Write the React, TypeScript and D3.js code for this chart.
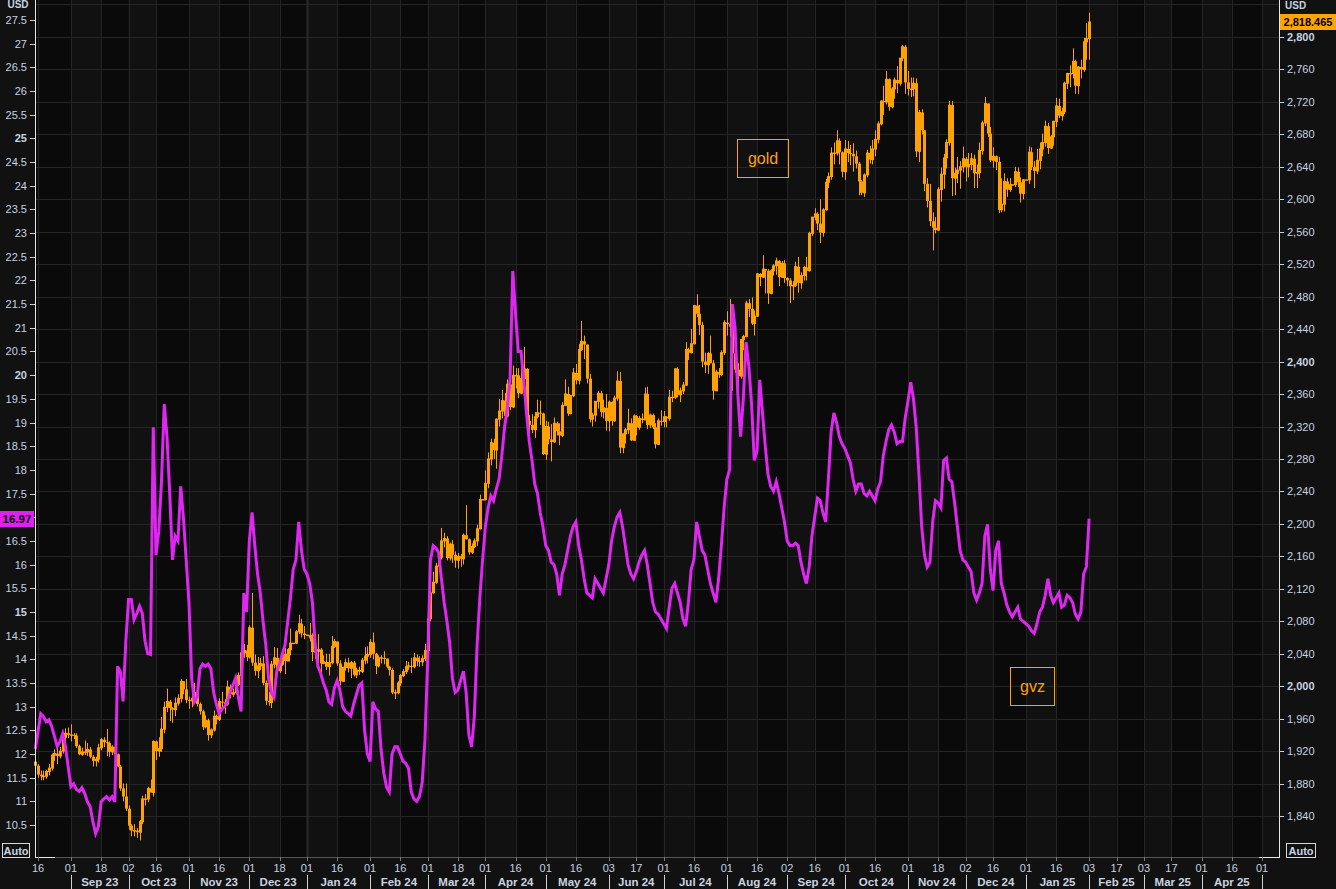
import React from 'react';
import * as d3 from 'd3';

const W = 1336;
const H = 889;

// first data day: Tue 2023-08-15 (one weekday before the first axis tick)
const FIRST_DAY = '2023-08-15';
const goldFirstOpen = 1907;

// Daily spot gold (weekdays, 2023-08-15 .. 2025-02-03)
const goldClose = [
  1902,1891,1889,1889,1895,1899,1915,1917,1914,1920,1937,1942,1940,
  1940,1939,1926,1916,1919,1919,1922,1913,1908,1910,1924,1934,1931,1930,1919,1925,1916,1901,1874,1864,1849,
  1828,1822,1822,1820,1833,1861,1861,1874,1869,1932,1920,1923,1947,1974,1981,1973,1971,1979,1985,2006,1996,1983,
  1982,1985,1992,1978,1969,1950,1958,1940,1946,1963,1959,1981,1980,1978,1999,1990,1992,2002,2013,2041,2044,2036,
  2072,2029,2019,2025,2028,2004,1982,1980,2027,2035,2019,2027,2040,2031,2045,2053,2053,2067,2077,2065,2063,
  2063,2059,2042,2043,2045,2028,2030,2024,2029,2049,2055,2028,2006,2023,2029,2022,2029,2014,2020,2018,2032,2037,2039,
  2054,2040,2025,2035,2035,2034,2024,2020,1992,1992,2004,2013,2018,2024,2025,2024,2035,2031,2030,2034,2044,
  2083,2115,2128,2148,2159,2179,2182,2158,2175,2162,2155,2160,2157,2186,2181,2165,2172,2179,2194,2230,2230,
  2250,2280,2300,2291,2329,2339,2352,2333,2372,2344,2383,2383,2361,2379,2391,2327,2322,2316,2332,2337,2336,2286,
  2320,2304,2301,2324,2314,2309,2346,2360,2336,2358,2386,2377,2415,2425,2421,2379,2329,2334,2351,2361,2338,2343,2327,
  2350,2327,2355,2376,2294,2311,2316,2324,2303,2333,2319,2330,2328,2360,2322,2334,2319,2298,2327,2326,
  2332,2330,2356,2356,2391,2359,2364,2371,2415,2411,2422,2469,2459,2445,2400,2396,2410,2398,2364,2387,2384,2411,2448,
  2446,2443,2410,2390,2382,2427,2431,2472,2465,2447,2456,2508,2504,2514,2512,2484,2512,2518,2524,2504,2521,2503,
  2500,2493,2494,2517,2497,2506,2516,2512,2558,2578,2582,2570,2559,2587,2621,2628,2657,2657,2672,2658,2634,
  2662,2657,2656,2653,2644,2622,2608,2630,2657,2649,2662,2674,2693,2721,2720,2748,2714,2736,2747,2743,2774,2788,2744,
  2736,2736,2743,2659,2707,2685,2619,2598,2573,2565,2562,2612,2631,2651,2670,2716,2626,2632,2636,2640,2650,
  2640,2643,2650,2632,2633,2660,2694,2718,2681,2648,2653,2646,2587,2594,2622,2612,2618,2618,2634,2621,2607,2624,
  2624,2658,2640,2635,2648,2662,2670,2690,2663,2677,2696,2715,2703,2708,2743,2755,2755,2770,2740,2763,2760,2794,2798,
  2818.465,
];
const goldHigh = [
  1910,1904,1896,1896,1897,1904,1917,1922,1924,1925,1938,1948,1949,
  1953,1942,1942,1928,1924,1933,1930,1925,1915,1913,1929,1936,1937,1947,1932,1927,1926,1917,1903,1880,1880,
  1853,1830,1830,1825,1835,1865,1867,1876,1885,1933,1933,1937,1962,1981,1997,1983,1974,1986,1990,2009,2001,2009,
  1987,1993,2004,1993,1980,1971,1964,1960,1948,1970,1965,1985,1993,1984,2007,2002,1997,2004,2017,2048,2052,2051,
  2075,2115,2039,2036,2035,2037,2007,1993,2031,2048,2047,2033,2046,2047,2047,2071,2053,2069,2088,2083,2074,
  2063,2078,2065,2051,2064,2047,2038,2040,2040,2062,2058,2054,2032,2024,2034,2035,2031,2031,2023,2024,2035,2048,2049,
  2058,2066,2041,2038,2038,2043,2034,2025,2022,1996,2006,2015,2021,2031,2030,2035,2041,2039,2037,2038,2052,
  2089,2119,2141,2152,2164,2195,2189,2185,2177,2180,2166,2164,2163,2188,2223,2182,2176,2182,2199,2236,2230,
  2266,2288,2305,2305,2330,2354,2365,2361,2378,2431,2395,2392,2392,2393,2418,2392,2334,2335,2338,2353,2352,2337,
  2327,2326,2323,2331,2326,2324,2350,2378,2369,2359,2392,2397,2422,2450,2432,2421,2385,2337,2351,2364,2364,2353,2360,
  2352,2351,2358,2388,2387,2311,2318,2342,2330,2335,2334,2333,2336,2368,2369,2336,2336,2324,2330,2340,
  2339,2333,2365,2364,2392,2393,2368,2375,2424,2417,2440,2469,2483,2470,2449,2411,2412,2432,2402,2390,2392,2414,2451,
  2462,2477,2461,2420,2398,2428,2433,2475,2477,2479,2463,2509,2509,2531,2513,2514,2514,2520,2528,2525,2524,2525,
  2504,2503,2499,2523,2529,2510,2518,2529,2560,2578,2589,2584,2600,2589,2625,2633,2664,2670,2685,2675,2659,
  2673,2672,2667,2669,2660,2646,2624,2632,2661,2666,2673,2685,2696,2722,2740,2758,2749,2738,2750,2764,2774,2790,2790,
  2758,2750,2750,2749,2710,2711,2685,2626,2619,2584,2578,2615,2639,2656,2674,2721,2721,2639,2652,2647,2665,
  2652,2657,2657,2655,2643,2670,2697,2726,2716,2689,2664,2654,2652,2626,2632,2626,2626,2618,2640,2639,2627,2625,
  2624,2665,2664,2647,2662,2670,2681,2697,2694,2679,2697,2725,2724,2713,2745,2756,2765,2786,2772,2764,2772,2799,2817,
  2830,
];
const goldLow = [
  1899,1887,1884,1884,1886,1890,1896,1908,1904,1911,1917,1931,1936,
  1932,1935,1924,1915,1914,1915,1914,1911,1901,1901,1906,1921,1925,1914,1913,1915,1913,1900,1871,1858,1846,
  1823,1815,1815,1813,1810,1830,1853,1857,1869,1864,1909,1913,1919,1942,1968,1957,1955,1963,1976,1980,1990,1979,
  1972,1974,1981,1975,1965,1946,1948,1933,1936,1944,1953,1957,1973,1966,1976,1985,1987,1990,2000,2011,2035,2031,
  2034,2025,2013,2010,2020,2001,1977,1976,1973,2022,2015,2016,2025,2015,2031,2038,2053,2052,2064,2060,2058,
  2063,2055,2031,2034,2024,2017,2027,2020,2013,2027,2047,2025,2001,2005,2019,2017,2010,2012,2010,2014,2016,2027,2028,
  2035,2033,2015,2023,2028,2027,2022,2013,1990,1984,1990,2000,2011,2015,2020,2016,2022,2025,2024,2025,2031,
  2042,2080,2114,2126,2141,2156,2171,2155,2155,2152,2146,2145,2147,2150,2181,2162,2163,2170,2173,2193,2230,
  2229,2244,2272,2280,2268,2320,2330,2319,2331,2340,2343,2367,2355,2360,2353,2320,2291,2312,2306,2330,2322,2285,
  2279,2298,2277,2300,2309,2297,2307,2345,2333,2335,2356,2372,2372,2413,2403,2373,2325,2320,2326,2342,2332,2330,2315,
  2314,2321,2326,2352,2287,2287,2299,2311,2302,2302,2309,2316,2324,2328,2317,2318,2317,2293,2297,2321,
  2319,2319,2327,2350,2354,2356,2350,2360,2370,2402,2410,2421,2455,2433,2393,2386,2385,2398,2353,2364,2380,2382,2408,
  2432,2431,2364,2386,2369,2379,2414,2430,2455,2445,2432,2455,2493,2503,2484,2471,2483,2506,2507,2493,2503,2497,
  2493,2472,2476,2492,2485,2490,2500,2500,2511,2555,2574,2562,2546,2554,2586,2614,2624,2643,2654,2643,2627,
  2624,2646,2642,2634,2638,2605,2605,2603,2627,2644,2643,2653,2669,2691,2704,2717,2709,2712,2724,2731,2740,2770,2730,
  2728,2726,2727,2652,2646,2680,2610,2590,2567,2537,2558,2561,2597,2613,2638,2666,2604,2605,2620,2613,2633,
  2622,2627,2636,2614,2614,2626,2655,2690,2677,2646,2639,2636,2583,2584,2585,2603,2609,2618,2615,2615,2596,2600,
  2624,2619,2636,2614,2631,2637,2653,2665,2656,2662,2666,2689,2700,2697,2705,2736,2738,2749,2730,2730,2749,2757,2772,
  2772,
];

// Daily GVZ (same weekdays)
const gvzClose = [
  12.1,12.47,12.85,12.79,12.68,12.72,12.58,12.37,12.16,12.26,12.43,12.16,11.73,
  11.31,11.37,11.25,11.21,11.29,11.17,10.99,10.89,10.57,10.32,10.47,10.99,11.05,11.10,11.03,11.10,10.99,13.85,13.74,13.11,14.38,
  15.26,15.26,14.84,14.97,15.12,14.97,14.38,14.12,14.1,18.9,16.2,16.7,17.76,19.39,18.7,17.5,16.1,16.6,16.5,17.65,16.98,16.1,
  15.2,13.6,13.1,13.2,13.8,13.9,13.85,13.9,13.8,13.3,13.05,12.85,12.95,13.0,13.1,13.3,13.45,13.6,13.2,12.9,15.4,15.0,
  16.5,17.1,16.4,15.8,15.4,14.8,14.3,13.6,13.3,13.2,13.75,13.9,14.1,14.3,14.8,15.3,15.9,16.1,16.9,16.3,15.9,
  15.8,15.6,15.2,14.3,13.85,13.7,13.5,13.35,13.1,13.05,13.4,13.55,13.35,13.0,12.9,12.85,12.8,13.05,13.25,13.45,13.5,12.5,12.0,
  11.84,13.1,12.95,12.9,12.1,11.6,11.3,11.2,12.0,12.15,12.15,12.0,11.85,11.8,11.7,11.2,11.05,11.0,11.1,11.4,12.3,
  14.0,16.1,16.4,16.35,16.25,15.7,15.2,14.8,14.35,13.6,13.3,13.35,13.55,13.75,13.3,12.4,12.15,12.8,14.3,15.3,16.1,
  16.8,17.2,17.45,17.35,17.6,17.8,18.3,18.9,19.3,19.9,22.2,21.3,20.5,20.5,19.9,19.2,18.6,18.2,17.7,17.5,17.1,16.8,
  16.4,16.3,16.05,16.0,15.8,15.35,15.8,16.0,16.3,16.6,16.8,16.9,16.4,16.1,15.7,15.4,15.35,15.3,15.7,15.6,15.5,15.4,15.7,
  16.0,16.5,16.8,17.0,17.1,16.8,16.4,16.0,15.8,15.7,15.85,16.05,16.2,16.3,16.0,15.6,15.2,15.0,14.95,14.85,
  14.75,14.65,15.1,15.5,15.6,15.4,15.2,14.85,14.7,15.2,15.9,16.1,16.9,16.6,16.3,16.2,15.9,15.6,15.4,15.2,15.7,16.4,17.2,
  17.8,18.0,21.5,21.0,19.6,18.7,19.5,20.7,20.2,19.4,18.2,18.4,19.9,19.2,18.5,17.9,17.65,17.55,17.75,17.5,17.2,16.9,
  16.5,16.4,16.4,16.45,16.4,16.05,15.8,15.6,15.95,16.6,17.0,17.4,17.35,17.1,16.9,17.8,18.8,19.2,19.0,18.7,18.55,
  18.45,18.3,18.15,17.8,17.55,17.7,17.7,17.5,17.45,17.55,17.45,17.35,17.6,17.75,18.3,18.6,18.85,18.95,18.8,18.55,18.6,18.6,19.1,
  19.45,19.85,19.5,18.9,17.9,16.8,16.2,15.95,16.05,16.9,17.35,17.3,17.2,18.2,18.25,17.8,17.75,17.3,16.8,16.3,16.1,
  16.05,15.95,15.85,15.4,15.25,15.4,15.6,16.6,16.85,15.9,15.45,16.3,16.5,15.6,15.4,15.15,15.0,14.9,15.0,15.1,14.85,14.8,
  14.75,14.7,14.6,14.55,14.75,15.0,15.1,15.35,15.7,15.35,15.2,15.3,15.4,15.1,15.15,15.35,15.3,15.2,14.95,14.85,15.0,15.8,15.95,
  16.97,
];

const dayTicks: [string, string][] = [
  ['2023-08-16','16'],['2023-09-01','01'],['2023-09-18','18'],['2023-10-02','02'],['2023-10-16','16'],
  ['2023-11-01','01'],['2023-11-16','16'],['2023-12-01','01'],['2023-12-18','18'],['2024-01-01','01'],
  ['2024-01-16','16'],['2024-02-01','01'],['2024-02-16','16'],['2024-03-01','01'],['2024-03-18','18'],
  ['2024-04-01','01'],['2024-04-16','16'],['2024-05-01','01'],['2024-05-16','16'],['2024-06-03','03'],
  ['2024-06-17','17'],['2024-07-01','01'],['2024-07-16','16'],['2024-08-01','01'],['2024-08-16','16'],
  ['2024-09-02','02'],['2024-09-16','16'],['2024-10-01','01'],['2024-10-16','16'],['2024-11-01','01'],
  ['2024-11-18','18'],['2024-12-02','02'],['2024-12-16','16'],['2025-01-01','01'],['2025-01-16','16'],
  ['2025-02-03','03'],['2025-02-17','17'],['2025-03-03','03'],['2025-03-17','17'],['2025-04-01','01'],
  ['2025-04-16','16'],['2025-05-01','01'],
];
const monthStarts = [
  '2023-09-01','2023-10-02','2023-11-01','2023-12-01','2024-01-01','2024-02-01','2024-03-01','2024-04-01',
  '2024-05-01','2024-06-03','2024-07-01','2024-08-01','2024-09-02','2024-10-01','2024-11-01','2024-12-02',
  '2025-01-01','2025-02-03','2025-03-03','2025-04-01','2025-05-01',
];
const monthLabels = [
  'Sep 23','Oct 23','Nov 23','Dec 23','Jan 24','Feb 24','Mar 24','Apr 24','May 24','Jun 24',
  'Jul 24','Aug 24','Sep 24','Oct 24','Nov 24','Dec 24','Jan 25','Feb 25','Mar 25','Apr 25',
];
const yearStarts = ['2024-01-01'];

const leftTicks = [10.5,11,11.5,12,12.5,13,13.5,14,14.5,15,15.5,16,16.5,17,17.5,18,18.5,19,19.5,20,
  20.5,21,21.5,22,22.5,23,23.5,24,24.5,25,25.5,26,26.5,27,27.5];
const leftBold = [15, 20, 25];
const rightTicks = [1840,1880,1920,1960,2000,2040,2080,2120,2160,2200,2240,2280,2320,2360,2400,2440,2480,
  2520,2560,2600,2640,2680,2720,2760,2800];
const rightBold = [2000, 2400, 2800];

const lastGold = 2818.465;
const lastGvz = 16.97;

// ---- layout ----
const PL = 35, PR = 1279, PT = 0, PB = 857;
const FONT = '"Liberation Sans", Arial, sans-serif';
const TXT = '#c9d2e0';
const ORANGE = '#ffa200';
const MAGENTA = '#df27f2';
const GRID = '#252525';

// weekday calendar, index 0 = 2023-08-16
const weekdayIdx = new Map<string, number>();
(() => {
  const d = new Date(Date.UTC(2023, 7, 15));
  let k = -1;
  while (d.getTime() <= Date.UTC(2025, 5, 1)) {
    const wd = d.getUTCDay();
    if (wd !== 0 && wd !== 6) {
      weekdayIdx.set(d.toISOString().slice(0, 10), k);
      k++;
    }
    d.setUTCDate(d.getUTCDate() + 1);
  }
})();
const firstIdx = weekdayIdx.get(FIRST_DAY) as number;

const x = d3.scaleLinear().domain([0, 446]).range([38, 1262]);
const yL = d3.scaleLinear().domain([10.5, 27.5]).range([825, 20]);
const yR = d3.scaleLinear().domain([1840, 2800]).range([816, 37]);
const xd = (iso: string) => x(weekdayIdx.get(iso) as number);

export default function App() {
  const fmtR = d3.format(',');
  const tickXs = dayTicks.map(([d]) => xd(d));

  // alternating background bands between day ticks
  const bands: { x0: number; x1: number; light: boolean }[] = [];
  bands.push({ x0: PL, x1: tickXs[0], light: false });
  tickXs.forEach((tx, i) => {
    const nx = i + 1 < tickXs.length ? tickXs[i + 1] : PR;
    bands.push({ x0: tx, x1: Math.min(nx, PR), light: i % 2 === 1 });
  });

  const candles = goldClose.map((c, k) => {
    const o = k === 0 ? goldFirstOpen : goldClose[k - 1];
    const h = Math.max(goldHigh[k], o, c);
    const l = Math.min(goldLow[k], o, c);
    const cx = Math.round(x(firstIdx + k));
    const up = c >= o;
    const yTop = yR(Math.max(o, c));
    const yBot = yR(Math.min(o, c));
    return (
      <g key={k}>
        <line x1={cx + 0.5} x2={cx + 0.5} y1={yR(h)} y2={yR(l)} stroke={ORANGE} strokeWidth={1} />
        {up ? (
          <rect x={cx - 0.5} y={yTop} width={2} height={Math.max(0.5, yBot - yTop)} fill="none" stroke={ORANGE} strokeWidth={1} />
        ) : (
          <rect x={cx - 1} y={yTop} width={3} height={Math.max(1, yBot - yTop)} fill={ORANGE} />
        )}
      </g>
    );
  });

  const gvzLine = d3.line<number>()
    .x((_, k) => x(firstIdx + k))
    .y((v) => yL(v))(gvzClose) as string;

  const monthXs = monthStarts.map(xd);
  const gvzTagY = Math.round(yL(lastGvz));
  const goldTagY = Math.round(yR(lastGold));

  return (
    <svg width={W} height={H} style={{ position: 'absolute', left: 0, top: 0, display: 'block' }}
      fontFamily={FONT}>
      <rect x={0} y={0} width={W} height={H} fill="#111111" />
      {/* plot background bands */}
      {bands.map((b, i) => (
        <rect key={i} x={b.x0} y={PT} width={Math.max(0, b.x1 - b.x0)} height={PB - PT}
          fill={b.light ? '#111111' : '#0a0a0a'} />
      ))}
      {/* horizontal grid (right axis) */}
      {rightTicks.map((t) => (
        <line key={t} x1={PL} x2={PR} y1={Math.round(yR(t)) + 0.5} y2={Math.round(yR(t)) + 0.5} stroke={GRID} />
      ))}
      <line x1={PL} x2={PR} y1={4.5} y2={4.5} stroke={GRID} />
      {/* vertical grid */}
      {tickXs.map((tx, i) => (
        <line key={i} x1={Math.round(tx) + 0.5} x2={Math.round(tx) + 0.5} y1={PT} y2={PB} stroke={GRID} />
      ))}
      {yearStarts.map((d) => (
        <line key={d} x1={Math.round(xd(d)) + 0.5} x2={Math.round(xd(d)) + 0.5} y1={PT} y2={PB} stroke="#2a2a2a" strokeWidth={2} />
      ))}

      {/* gold candles */}
      <g>{candles}</g>

      {/* gvz line */}
      <path d={gvzLine} fill="none" stroke={MAGENTA} strokeWidth={3} strokeLinejoin="miter" />

      {/* annotation boxes */}
      <rect x={737.5} y={139.5} width={51} height={38} fill="none" stroke={ORANGE} strokeWidth={1} />
      <text x={763} y={164} textAnchor="middle" fill={ORANGE} fontSize={16}>gold</text>
      <rect x={1010.5} y={667.5} width={44} height={38} fill="none" stroke={ORANGE} strokeWidth={1} />
      <text x={1032.5} y={692} textAnchor="middle" fill={ORANGE} fontSize={16}>gvz</text>

      {/* bottom axis line */}
      <line x1={PL} x2={PR} y1={PB + 0.5} y2={PB + 0.5} stroke="#555" />
      {/* left axis */}
      <line x1={PL + 0.5} x2={PL + 0.5} y1={0} y2={PB + 1} stroke="#e8e8e8" />
      <line x1={PL} x2={PL + 20} y1={PB + 0.5} y2={PB + 0.5} stroke="#e8e8e8" />
      {leftTicks.map((t) => {
        const yy = Math.round(yL(t)) + 0.5;
        const hidden = Math.abs(yy - gvzTagY) < 10;
        return (
          <g key={t}>
            <line x1={30} x2={PL} y1={yy} y2={yy} stroke={TXT} />
            {!hidden && (
              <text x={27} y={yy} dy="0.35em" textAnchor="end" fontSize={11} fill={TXT}
                fontWeight={leftBold.includes(t) ? 'bold' : 'normal'}>{String(t)}</text>
            )}
          </g>
        );
      })}
      {/* right axis */}
      <line x1={PR + 0.5} x2={PR + 0.5} y1={0} y2={PB + 1} stroke="#e8e8e8" />
      <line x1={PR - 20} x2={PR + 1} y1={PB + 0.5} y2={PB + 0.5} stroke="#e8e8e8" />
      {rightTicks.map((t) => {
        const yy = Math.round(yR(t)) + 0.5;
        return (
          <g key={t}>
            <line x1={PR} x2={PR + 5} y1={yy} y2={yy} stroke={TXT} />
            <text x={1287} y={yy} dy="0.35em" textAnchor="start" fontSize={11} fill={TXT}
              fontWeight={rightBold.includes(t) ? 'bold' : 'normal'}>{fmtR(t)}</text>
          </g>
        );
      })}

      {/* USD labels */}
      <text x={18} y={8} textAnchor="middle" fontSize={10} fontWeight="bold" fill={TXT}>USD</text>
      <text x={1285} y={9} textAnchor="start" fontSize={10} fontWeight="bold" fill={TXT}>USD</text>

      {/* last value tags */}
      <rect x={1280} y={goldTagY - 8} width={56} height={16} fill="#ffa500" />
      <text x={1308} y={goldTagY} dy="0.35em" textAnchor="middle" fontSize={11}
        fontWeight="bold" fill="#000">{d3.format(',.3f')(lastGold)}</text>
      <rect x={0} y={gvzTagY - 8} width={34} height={16} fill="#e020f0" />
      <text x={17} y={gvzTagY} dy="0.35em" textAnchor="middle" fontSize={11.5}
        fontWeight="bold" fill="#000">{lastGvz.toFixed(2)}</text>

      {/* Auto boxes */}
      <rect x={2.5} y={843.5} width={27} height={14} fill="#111" stroke="#d8d8d8" />
      <text x={16} y={851} dy="0.35em" textAnchor="middle" fontSize={11} fontWeight="bold" fill={TXT}>Auto</text>
      <rect x={1286.5} y={843.5} width={29} height={14} fill="#111" stroke="#d8d8d8" />
      <text x={1301} y={851} dy="0.35em" textAnchor="middle" fontSize={11} fontWeight="bold" fill={TXT}>Auto</text>

      {/* x axis day ticks */}
      {dayTicks.map(([d, lab], i) => (
        <g key={d}>
          <line x1={Math.round(tickXs[i]) + 0.5} x2={Math.round(tickXs[i]) + 0.5} y1={PB} y2={PB + 4} stroke="#777" />
          <text x={tickXs[i]} y={872} textAnchor="middle" fontSize={11} fill={TXT}>{lab}</text>
        </g>
      ))}
      {/* month separators and labels */}
      {monthXs.map((mx, i) => (
        <line key={i} x1={Math.round(mx) + 0.5} x2={Math.round(mx) + 0.5} y1={875} y2={889} stroke="#cfcfcf" />
      ))}
      {monthLabels.map((m, i) => (
        <text key={m} x={(monthXs[i] + monthXs[i + 1]) / 2} y={886} textAnchor="middle" fontSize={11.5}
          fontWeight="bold" fill={TXT}>{m}</text>
      ))}
    </svg>
  );
}
